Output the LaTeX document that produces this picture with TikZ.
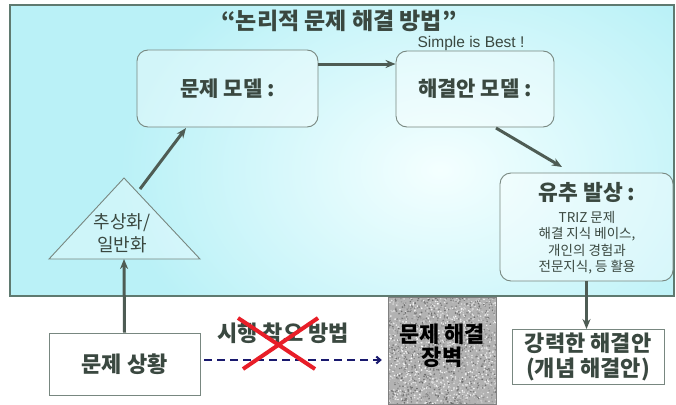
\documentclass[tikz,border=0pt]{standalone}
\usepackage{fontspec}
\setmainfont{Noto Sans CJK KR}
\newfontfamily\lat{Liberation Sans}
\usetikzlibrary{arrows.meta}
\definecolor{txt}{RGB}{58,72,64}
\definecolor{arrc}{RGB}{78,92,84}
\definecolor{bord}{RGB}{120,135,128}
\definecolor{panelc}{RGB}{186,241,247}
\definecolor{panelin}{RGB}{244,255,255}
\definecolor{panelb}{RGB}{95,122,112}
\definecolor{navyc}{RGB}{25,25,110}
\definecolor{redx}{RGB}{232,30,40}
\newcommand{\fs}[1]{\fontsize{#1}{#1}\selectfont}
\begin{document}
\begin{tikzpicture}[x=1pt,y=-1pt,
  arr/.style={draw=arrc, line width=3pt, -{Stealth[length=10pt,width=8pt]}},
  rbox/.style={draw=bord, line width=0.9pt, rounded corners=11pt, fill=white, fill opacity=0.35, text opacity=1, text=txt, inner sep=0pt},
  sbox/.style={draw=bord, line width=0.9pt, fill=white, text=txt, inner sep=0pt},
  big/.style={font=\fs{21}\bfseries},
  small/.style={font=\fs{13.5}},
]
\useasboundingbox (0,0) rectangle (676,404);
% panel
\fill[white] (0,0) rectangle (676,404);
\begin{scope}
\clip (10,5) rectangle (674,296);
\fill[panelc] (10,5) rectangle (674,296);
\shade[inner color=panelin, outer color=panelc] (440,170) ellipse [x radius=320, y radius=230];
\end{scope}
\draw[panelb, line width=1.2pt] (10,5) rectangle (674,296);

% title
\node[text=txt, font=\fs{23}\bfseries] (title) at (339,21) {“논리적 문제 해결 방법”};
\node[text=txt, font=\lat\fs{15.5}] (simple) at (471,43) {Simple is Best !};

% model boxes
\node[rbox, big, minimum width=181pt, minimum height=77pt] (pm) at (227.5,88.5) {문제 모델 :};
\node[rbox, big, minimum width=158pt, minimum height=76pt] (sm) at (475,89) {해결안 모델 :};

% triangle
\coordinate (apex) at (124,178);
\coordinate (bl) at (49,259);
\coordinate (br) at (200,259);
\coordinate (tb) at (124,259);
\draw[bord, line width=0.9pt, fill=white, fill opacity=0.3] (apex) -- (bl) -- (br) -- cycle;
\node[text=txt, font=\fs{18}, align=center] (abs) at (122,233) {추상화/\\[4pt]일반화};

% problem situation
\node[sbox, font=\fs{22}\bfseries, minimum width=151pt, minimum height=62pt] (ps) at (124.5,364) {문제 상황};

% analog box
\node[rbox, minimum width=173pt, minimum height=108pt] (an) at (586.5,227) {};
\node[text=txt, font=\fs{21.5}\bfseries] (antitle) at (587,192) {유추 발상 :};
\node[text=txt, small, align=center] (antext) at (587,243) {TRIZ 문제\\[2.5pt]해결 지식 베이스,\\[2.5pt]개인의 경험과\\[2.5pt]전문지식, 등 활용};

% strong solution
\node[sbox, font=\fontsize{22}{25}\selectfont\bfseries, align=center, minimum width=152pt, minimum height=55pt] (ss) at (588,357) {강력한 해결안\\(개념 해결안)};

% wall
\begin{scope}
\clip (388,297) rectangle (496,404);
\fill[black!30] (388,297) rectangle (496,404);
\pgfmathsetseed{7}
\foreach \i in {1,...,2400}{
  \pgfmathsetmacro\xx{388+108*rnd}
  \pgfmathsetmacro\yy{297+107*rnd}
  \pgfmathsetmacro\cc{60*rnd}
  \fill[black!\cc] (\xx,\yy) circle (0.9pt);
}
\end{scope}
\draw[black!50, line width=0.8pt] (388,297) rectangle (496,404);
\node[font=\fontsize{22}{23}\selectfont\bfseries, text=black, align=center, minimum width=108pt, minimum height=107pt] (wall) at (442,346) {문제 해결\\장벽};

% connectors
\coordinate (y64) at (0,64);
\coordinate (y360) at (0,360);
\draw[arr] (pm.east |- y64) -- (sm.west |- y64);
\coordinate (tri) at (140,189);
\coordinate (pmb) at (186,128);
\draw[arr] (tri) -- (pmb);
\draw[arr] (ps.north) -- (tb);
\coordinate (sms) at (496,128);
\coordinate (ant) at (562,167);
\draw[arr] (sms) -- (ant);
\draw[arr] (an.south) -- (an.south |- ss.north);

% trial and error
\node[text=txt, font=\fs{22}\bfseries] (trial) at (283,333) {시행 착오 방법};
\draw[navyc, line width=2pt, dash pattern=on 8pt off 5pt, -{Straight Barb[length=4pt,width=7pt]}, shorten <=4pt, shorten >=6pt] (ps.east |- y360) -- (wall.west |- y360);
\draw[redx, line width=4pt] (238,318) -- (315,369);
\draw[redx, line width=4pt] (318,318) -- (243,369);
\end{tikzpicture}
\end{document}
